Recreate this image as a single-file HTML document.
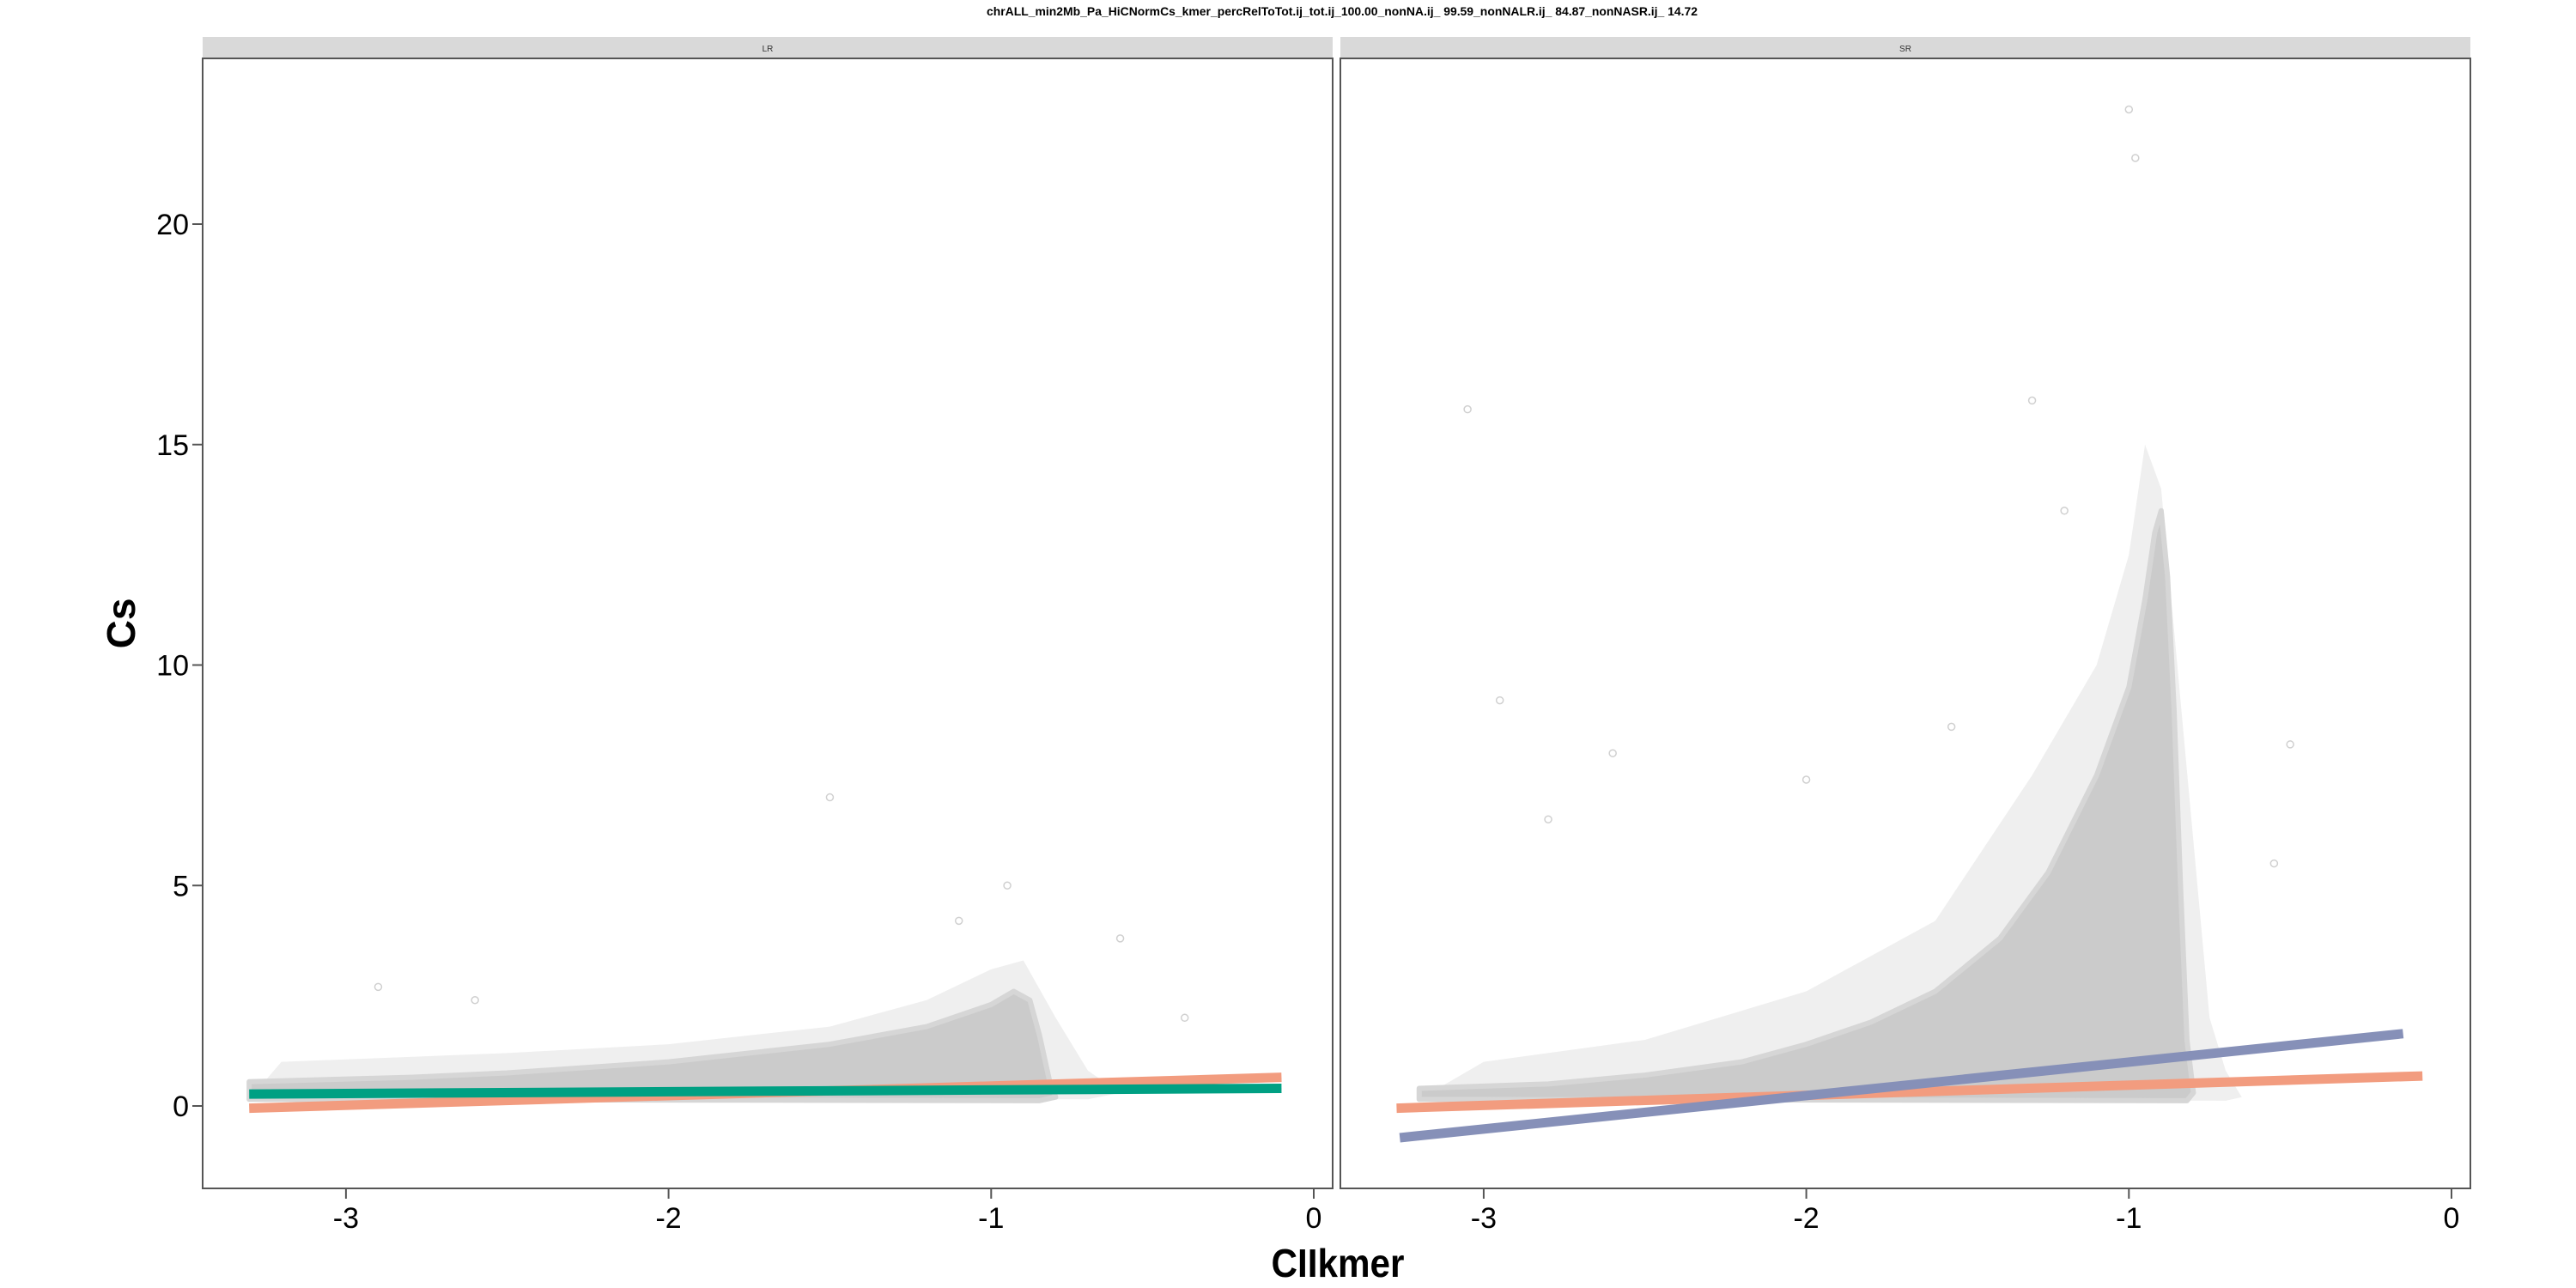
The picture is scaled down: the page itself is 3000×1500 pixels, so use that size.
<!DOCTYPE html>
<html><head><meta charset="utf-8"><style>
body{margin:0;background:#fff}
svg{display:block;font-family:"Liberation Sans",sans-serif}
</style></head><body>
<svg id="chart" width="3000" height="1500" viewBox="0 0 3000 1500" xmlns="http://www.w3.org/2000/svg">
<text x="1563" y="18" font-size="14" font-weight="bold" text-anchor="middle" textLength="828" lengthAdjust="spacingAndGlyphs">chrALL_min2Mb_Pa_HiCNormCs_kmer_percRelToTot.ij_tot.ij_100.00_nonNA.ij_ 99.59_nonNALR.ij_ 84.87_nonNASR.ij_ 14.72</text>
<g id="panels"></g>
<text transform="translate(157,726) rotate(-90)" font-size="46" font-weight="bold" text-anchor="middle">Cs</text>
<text x="1558" y="1487" font-size="46" font-weight="bold" text-anchor="middle" textLength="155" lengthAdjust="spacingAndGlyphs">CIIkmer</text>
</svg>
<script>
const yTicks=[0,5,10,15,20];
const xTicks=[-3,-2,-1,0];
const panelNames=["LR","SR"];
// dense cloud outlines [x,y]
const lrDense=[[-3.3,0.15],[-3.3,0.55],[-2.8,0.65],[-2.5,0.75],[-2,1.0],[-1.5,1.4],[-1.2,1.8],[-1.0,2.3],[-0.93,2.6],[-0.88,2.4],[-0.85,1.6],[-0.82,0.6],[-0.8,0.2],[-0.85,0.12]];
const lrHalo=[[-3.3,0.15],[-3.2,1.0],[-2.5,1.2],[-2,1.4],[-1.5,1.8],[-1.2,2.4],[-1,3.1],[-0.9,3.3],[-0.8,2],[-0.7,0.8],[-0.6,0.3],[-0.7,0.15]];
const srDense=[[-3.2,0.15],[-3.2,0.4],[-2.8,0.5],[-2.5,0.7],[-2.2,1.0],[-2.0,1.4],[-1.8,1.9],[-1.6,2.6],[-1.4,3.8],[-1.25,5.3],[-1.1,7.5],[-1.0,9.5],[-0.95,11.5],[-0.92,13],[-0.9,13.5],[-0.88,12],[-0.86,9],[-0.84,5],[-0.82,1.5],[-0.8,0.3],[-0.82,0.12]];
const srHalo=[[-3.2,0.15],[-3.0,1.0],[-2.5,1.5],[-2.0,2.6],[-1.6,4.2],[-1.3,7.5],[-1.1,10],[-1.0,12.5],[-0.95,15],[-0.9,14],[-0.85,10],[-0.8,6],[-0.75,2],[-0.7,0.8],[-0.65,0.2],[-0.7,0.12]];
const lrOutX=[-1.5,-0.95,-0.6,-2.9,-1.1,-0.4,-2.6];
const lrOutY=[7.0,5.0,3.8,2.7,4.2,2.0,2.4];
const srOutX=[-3.05,-2.95,-1.0,-0.98,-1.3,-2.0,-2.6,-0.5,-0.55,-1.55,-2.8,-1.2];
const srOutY=[15.8,9.2,22.6,21.5,16.0,7.4,8.0,8.2,5.5,8.6,6.5,13.5];
// fitted lines [x0,y0,x1,y1]
const lrSalmon=[-3.3,-0.05,-0.1,0.65];
const lrGreen=[-3.3,0.27,-0.1,0.4];
const srSalmon=[-3.27,-0.05,-0.09,0.68];
const srBlue=[-3.26,-0.72,-0.15,1.64];

const NS="http://www.w3.org/2000/svg";
const root=document.getElementById('panels');
const pw=1316, pTop=68, pBottom=1384, lefts=[236,1561];
function mk(t,a,p){const e=document.createElementNS(NS,t);for(const k in a)e.setAttribute(k,a[k]);p.appendChild(e);return e;}
const yS=v=>1288-v*51.35;
function draw(i,dense,halo,ox,oy,lines){
  const L=lefts[i];
  const xS=v=>L+1294+v*375.7;
  const g=mk('g',{},root);
  
  
  const s=mk('rect',{x:L,y:43,width:pw,height:25,fill:'#d9d9d9'},g);
  
  
  const st=mk('text',{x:L+pw/2,y:60,'font-size':10,'text-anchor':'middle',fill:'#333'},g);st.textContent=panelNames[i];
  
  
  const h=mk('polygon',{points:halo.map(p=>xS(p[0])+','+yS(p[1])).join(' '),fill:'#efefef'},g);
  
  
  const d=mk('polygon',{points:dense.map(p=>xS(p[0])+','+yS(p[1])).join(' '),fill:'#cbcbcb','stroke':'#d6d6d6','stroke-width':6,'stroke-linejoin':'round'},g);
  
  
  ox.forEach((x,j)=>{const c=mk('circle',{cx:xS(x),cy:yS(oy[j]),r:4,fill:'none',stroke:'#d0d0d0','stroke-width':1.5},g);
    
    });
  lines.forEach(([a,col,nm])=>{const l=mk('line',{x1:xS(a[0]),y1:yS(a[1]),x2:xS(a[2]),y2:yS(a[3]),stroke:col,'stroke-width':11},g);
    
    });
  const f=mk('rect',{x:L,y:pTop,width:pw,height:pBottom-pTop,fill:'none',stroke:'#555','stroke-width':2},g);
  
  
  xTicks.forEach(t=>{const x=xS(t);mk('line',{x1:x,y1:pBottom,x2:x,y2:pBottom+12,stroke:'#555','stroke-width':2},g);
    const tx=mk('text',{x:x,y:1430,'font-size':34,'text-anchor':'middle'},g);tx.textContent=t;
    
    });
  if(i===0){yTicks.forEach(t=>{const y=yS(t);mk('line',{x1:224,y1:y,x2:236,y2:y,stroke:'#555','stroke-width':2},g);
    const ty=mk('text',{x:220,y:y+12,'font-size':34,'text-anchor':'end'},g);ty.textContent=t;
    
    });}
}
draw(0,lrDense,lrHalo,lrOutX,lrOutY,[[lrSalmon,'#f29c7f','fit-line-salmon'],[lrGreen,'#00a083','fit-line-green']]);
draw(1,srDense,srHalo,srOutX,srOutY,[[srSalmon,'#f29c7f','fit-line-salmon'],[srBlue,'#8690b8','fit-line-blue']]);
</script>
</body></html>
